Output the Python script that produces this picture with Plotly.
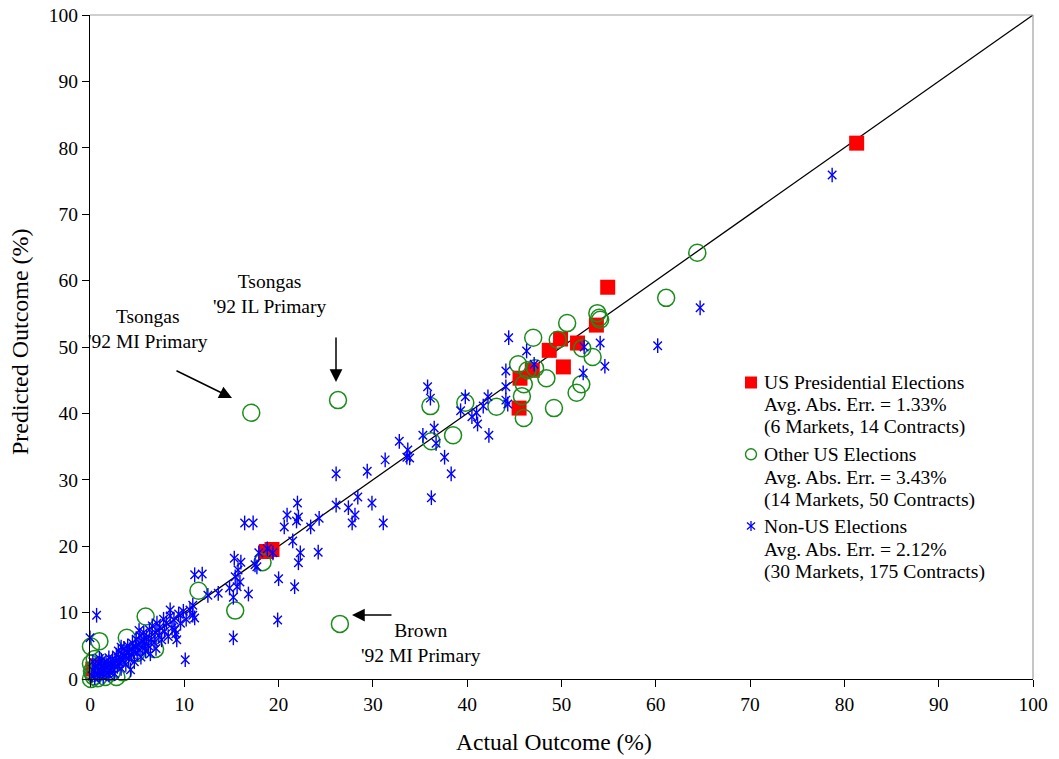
import plotly.graph_objects as go

# ---------------- data ----------------
diag_x = [0, 100]
diag_y = [0, 100]

# US Presidential Elections (14 contracts)
r_x = [81.3, 54.9, 53.7, 51.7, 49.9, 48.7, 50.2, 46.9, 45.6, 45.5, 18.7, 19.3, 0.3, 0.8]
r_y = [80.7, 59.0, 53.3, 50.6, 51.2, 49.5, 47.0, 46.5, 45.3, 40.8, 19.2, 19.5, 1.5, 2.0]

# Other US Elections (50 contracts)
g_x = [17.1, 26.3, 26.5, 64.4, 61.1, 53.8, 54.1, 54.0, 50.6, 47.0,
       49.6, 52.2, 53.3, 45.4, 46.4, 47.2, 48.4, 46.0, 52.1, 51.6,
       45.8, 49.2, 46.0, 43.1, 39.8, 36.1, 38.5, 36.2, 18.3, 11.5,
       15.4, 5.9, 3.9, 1.0, 0.1, 6.9, 0.1, 0.2, 0.4, 0.1,
       0.8, 1.6, 2.8, 0.5, 1.4, 2.3, 4.9, 0.9, 0.3, 3.5]
g_y = [40.1, 42.0, 8.3, 64.2, 57.4, 55.1, 54.1, 54.4, 53.6, 51.4,
       51.1, 49.8, 48.5, 47.4, 46.5, 46.8, 45.3, 44.4, 44.4, 43.1,
       42.6, 40.8, 39.3, 41.0, 41.6, 41.1, 36.7, 35.8, 17.6, 13.3,
       10.3, 9.4, 6.2, 5.7, 4.9, 4.5, 2.3, 1.2, 0.4, 0.0,
       0.1, 0.3, 0.3, 3.0, 1.3, 1.0, 3.9, 2.0, 0.9, 1.0]

# Non-US Elections (175 contracts)
b_x = [78.7, 64.7, 60.2, 54.6, 54.1, 52.4, 52.3, 47.1, 46.3, 44.4,
       44.1, 44.1, 44.1, 44.3, 42.2, 41.7, 41.0, 40.5, 41.1, 42.3,
       39.8, 39.3, 35.8, 36.1, 36.5, 36.7, 35.3, 37.6, 38.3, 36.2,
       32.8, 33.7, 33.6, 33.9, 31.3, 29.4, 28.4, 29.9, 27.4, 28.1,
       27.8, 31.1, 26.1, 26.1, 22.0, 20.9, 22.1, 21.9, 20.6, 23.4,
       24.3, 16.4, 17.3, 21.5, 22.3, 22.1, 24.2, 21.7, 20.0, 17.9,
       15.3, 16.0, 17.7, 15.7, 15.4, 15.9, 15.6, 16.8, 13.6, 14.8,
       15.2, 11.1, 11.9, 10.9, 8.5, 10.9, 11.1, 15.2, 19.9, 10.1,
       0.7, 0.0, 18.8, 19.4, 17.5, 9.2, 9.0,
       0.2, 0.4, 0.5, 0.6, 0.8, 0.9, 1.0, 1.1, 1.2, 1.3,
       1.4, 1.5, 1.6, 1.7, 1.8, 1.9, 2.0, 2.1, 2.2, 2.3,
       2.4, 2.5, 2.6, 2.7, 2.8, 2.9, 3.0, 3.1, 3.2, 3.3,
       3.4, 3.5, 3.6, 3.7, 3.8, 3.9, 4.0, 4.1, 4.2, 4.3,
       4.4, 4.5, 4.6, 4.7, 4.8, 4.9, 5.0, 5.1, 5.2, 5.3,
       5.4, 5.5, 5.6, 5.7, 5.8, 5.9, 6.0, 6.2, 6.3, 6.4,
       6.5, 6.6, 6.8, 6.9, 7.0, 7.1, 7.3, 7.4, 7.6, 7.8,
       7.9, 8.1, 8.3, 8.5, 8.7, 8.9, 9.1, 9.4, 9.6, 9.9,
       10.2, 10.6, 5.2, 3.3, 2.0, 1.0, 0.3, 12.5]
b_y = [75.9, 55.9, 50.2, 47.1, 50.6, 50.0, 46.1, 47.4, 49.4, 51.4,
       46.4, 44.0, 42.0, 41.4, 42.5, 41.1, 40.1, 39.5, 38.4, 36.7,
       42.5, 40.4, 44.0, 42.3, 37.8, 35.5, 36.7, 33.4, 30.9, 27.3,
       35.8, 34.5, 33.4, 33.3, 33.0, 31.3, 27.4, 26.5, 25.8, 24.7,
       23.5, 23.5, 30.9, 26.2, 26.5, 24.7, 24.4, 23.8, 22.9, 22.9,
       24.2, 23.5, 23.5, 20.8, 19.0, 17.5, 19.1, 13.9, 15.1, 19.0,
       18.2, 17.6, 16.9, 16.4, 15.4, 14.6, 13.9, 12.8, 12.9, 13.7,
       12.3, 15.7, 15.8, 11.1, 10.4, 9.6, 9.2, 6.2, 8.9, 2.9,
       9.6, 6.2, 19.6, 19.0, 17.2, 5.9, 7.4,
       0.5, 1.2, 0.2, 1.8, 0.8, 2.3, 0.4, 1.5, 2.8, 1.0,
       0.3, 2.0, 1.4, 2.6, 0.9, 1.9, 3.2, 1.2, 2.4, 1.7,
       3.0, 2.1, 0.8, 2.7, 3.6, 1.9, 4.2, 2.5, 3.1, 1.6,
       3.8, 2.8, 4.6, 3.4, 2.2, 4.0, 5.0, 3.1, 4.4, 1.4,
       3.7, 5.4, 4.1, 2.6, 4.8, 6.0, 3.9, 5.2, 4.5, 6.5,
       3.3, 5.7, 4.8, 7.0, 5.4, 4.2, 6.3, 5.0, 7.4, 3.8,
       6.0, 8.0, 5.5, 7.0, 4.6, 8.4, 6.6, 7.8, 5.9, 9.0,
       7.2, 8.4, 6.4, 9.5, 7.7, 8.9, 6.8, 9.8, 8.4, 10.2,
       9.0, 10.4, 7.3, 4.8, 0.6, 3.1, 2.6, 12.6]

tick_vals = [0, 10, 20, 30, 40, 50, 60, 70, 80, 90, 100]

legend_lines = [
    ["US Presidential Elections", "Avg. Abs. Err. = 1.33%", "(6 Markets, 14 Contracts)"],
    ["Other US Elections", "Avg. Abs. Err. = 3.43%", "(14 Markets, 50 Contracts)"],
    ["Non-US Elections", "Avg. Abs. Err. = 2.12%", "(30 Markets, 175 Contracts)"],
]

FONT = "Liberation Serif, Times New Roman, serif"
RED = "#FF0000"
GREEN = "#1A8C1A"
BLUE = "#0000FF"

fig = go.Figure()
fig.add_trace(go.Scatter(x=diag_x, y=diag_y, mode="lines",
                         line=dict(color="black", width=1.3),
                         showlegend=False, hoverinfo="skip"))
fig.add_trace(go.Scatter(x=r_x, y=r_y, mode="markers", name="US Presidential Elections",
                         marker=dict(symbol="square", size=15, color=RED, line=dict(width=0)),
                         cliponaxis=False, showlegend=False))
fig.add_trace(go.Scatter(x=g_x, y=g_y, mode="markers", name="Other US Elections",
                         marker=dict(symbol="circle-open", size=17, color=GREEN,
                                     line=dict(width=1.5, color=GREEN)),
                         cliponaxis=False, showlegend=False))
fig.add_trace(go.Scatter(x=b_x, y=b_y, mode="markers", name="Non-US Elections",
                         marker=dict(symbol="x-thin-open", size=8.5, color=BLUE,
                                     line=dict(width=1.4, color=BLUE)),
                         cliponaxis=False, showlegend=False))
fig.add_trace(go.Scatter(x=b_x, y=b_y, mode="markers", name="Non-US Elections",
                         marker=dict(symbol="line-ns-open", size=10.5, color=BLUE,
                                     line=dict(width=1.4, color=BLUE)),
                         cliponaxis=False, showlegend=False))

# Screen-pixel helpers (page body has an 8px margin; plot area spans 90..1033 x 15..679 on screen)
PX0, PW, PY0, PH = 90, 943, 679, 664
def px_x(p):
    return (p - PX0) / PW
def px_y(p):
    return (PY0 - p) / PH

# ---- annotations (labels + arrows) ----
ann = []
lab_font = dict(family=FONT, size=19.5, color="black")
ann.append(dict(x=px_x(148), y=px_y(328.5), xref="paper", yref="paper",
                text="Tsongas<br>'92 MI Primary",
                showarrow=False, font=lab_font, xanchor="center", yanchor="middle"))
ann.append(dict(x=px_x(270), y=px_y(293.5), xref="paper", yref="paper",
                text="Tsongas<br>'92 IL Primary",
                showarrow=False, font=lab_font, xanchor="center", yanchor="middle"))
ann.append(dict(x=px_x(421), y=px_y(642.5), xref="paper", yref="paper",
                text="Brown<br>'92 MI Primary",
                showarrow=False, font=lab_font, xanchor="center", yanchor="middle"))
arrow_style = dict(showarrow=True, arrowhead=2, arrowsize=1.7, arrowwidth=1.5,
                   arrowcolor="black", text="", xref="paper", yref="paper")
ann.append(dict(x=px_x(232), y=px_y(398), ax=-57, ay=-28, **arrow_style))
ann.append(dict(x=px_x(336), y=px_y(382), ax=0, ay=-46, **arrow_style))
ann.append(dict(x=px_x(352), y=px_y(615), ax=41, ay=0, **arrow_style))

# axis titles
ann.append(dict(x=px_x(554), y=px_y(742), xref="paper", yref="paper",
                text="Actual Outcome (%)", showarrow=False,
                font=dict(family=FONT, size=23.5, color="black"),
                xanchor="center", yanchor="middle"))
ann.append(dict(x=px_x(20), y=px_y(342), xref="paper", yref="paper",
                text="Predicted Outcome (%)", showarrow=False, textangle=-90,
                font=dict(family=FONT, size=24, color="black"),
                xanchor="center", yanchor="middle"))

# ---- custom legend ----
line_ys = [[382.3, 404.5, 426.7], [454.3, 477.0, 499.7], [526.0, 549.0, 571.7]]
leg_font = dict(family=FONT, size=19.6, color="black")
for grp, ys in zip(legend_lines, line_ys):
    for txt, yy in zip(grp, ys):
        ann.append(dict(x=px_x(762), y=px_y(yy), xref="paper", yref="paper", text=txt,
                        showarrow=False, font=leg_font, xanchor="left", yanchor="middle"))

shapes = []
# top & right frame lines (grey)
shapes.append(dict(type="line", xref="paper", yref="paper", x0=0, x1=1, y0=1, y1=1,
                   line=dict(color="#A0A0A0", width=1.2)))
shapes.append(dict(type="line", xref="paper", yref="paper", x0=1, x1=1, y0=0, y1=1,
                   line=dict(color="#A0A0A0", width=1.2)))
# legend key: square
shapes.append(dict(type="rect", xref="paper", yref="paper",
                   x0=px_x(745), x1=px_x(757), y0=px_y(388.5), y1=px_y(376.5),
                   fillcolor=RED, line=dict(width=0)))
# legend key: circle
shapes.append(dict(type="circle", xref="paper", yref="paper",
                   x0=px_x(745.5), x1=px_x(756.5), y0=px_y(459.8), y1=px_y(448.8),
                   line=dict(color=GREEN, width=1.4)))
# legend key: asterisk
cx, cy = 751, 526
shapes.append(dict(type="line", xref="paper", yref="paper",
                   x0=px_x(cx), x1=px_x(cx), y0=px_y(cy - 5), y1=px_y(cy + 5),
                   line=dict(color=BLUE, width=1.3)))
shapes.append(dict(type="line", xref="paper", yref="paper",
                   x0=px_x(cx - 4), x1=px_x(cx + 4), y0=px_y(cy - 3.5), y1=px_y(cy + 3.5),
                   line=dict(color=BLUE, width=1.3)))
shapes.append(dict(type="line", xref="paper", yref="paper",
                   x0=px_x(cx - 4), x1=px_x(cx + 4), y0=px_y(cy + 3.5), y1=px_y(cy - 3.5),
                   line=dict(color=BLUE, width=1.3)))

axis_common = dict(range=[0, 100], tickvals=tick_vals, ticks="outside", ticklen=7,
                   tickwidth=1.2, tickcolor="black", showline=True, linecolor="black",
                   linewidth=1.3, showgrid=False, zeroline=False, automargin=False,
                   ticklabeloverflow="allow",
                   tickfont=dict(family=FONT, size=19.5, color="black"))

# figure is placed at (8, 8) by the page's body margin; it reaches the window's edges
fig.update_layout(
    width=1051, height=751,
    margin=dict(l=82, r=26, t=7, b=80, autoexpand=False),
    paper_bgcolor="white", plot_bgcolor="white",
    showlegend=False,
    xaxis=dict(**axis_common),
    yaxis=dict(**axis_common),
    annotations=ann,
    shapes=shapes,
)

fig.write_html("out.html")
